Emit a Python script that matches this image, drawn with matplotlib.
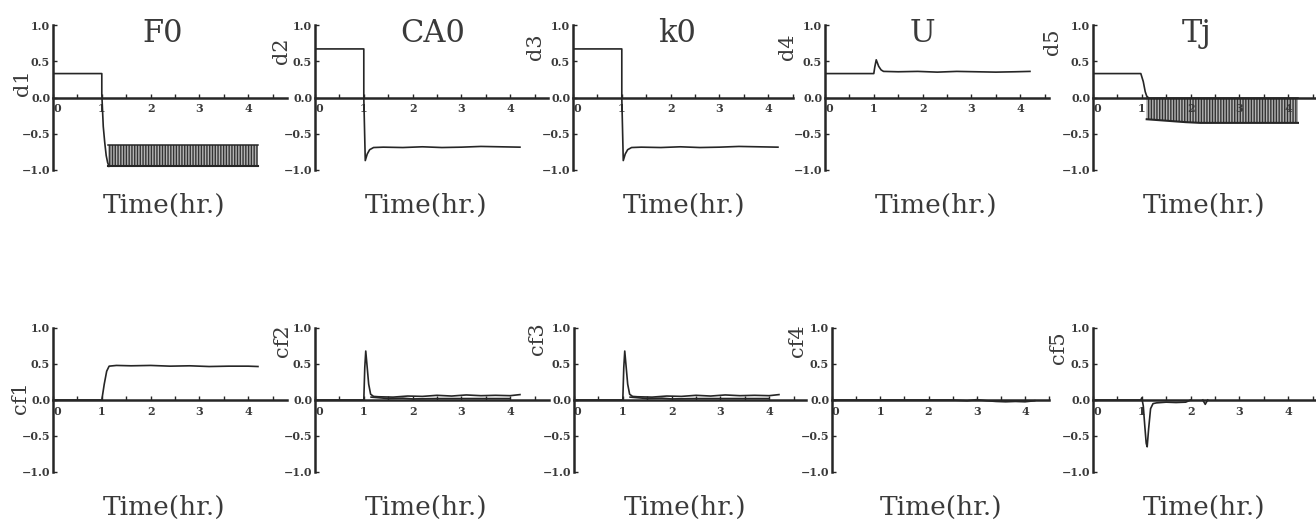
import matplotlib
matplotlib.use("Agg")
import matplotlib.pyplot as plt
import numpy as np

plt.rcParams['font.family'] = ['DejaVu Serif']
plt.rcParams['hatch.linewidth'] = 1.0
plt.rcParams['axes.unicode_minus'] = True

# ---------------- data ----------------
titles = ["F0", "CA0", "k0", "U", "Tj"]
top_ylabels = ["d1", "d2", "d3", "d4", "d5"]
bot_ylabels = ["cf1", "cf2", "cf3", "cf4", "cf5"]
xlabel = "Time(hr.)"
x_ticks = [0, 1, 2, 3, 4]
x_ticklabels = ["0", "1", "2", "3", "4"]
y_ticks = [-1.0, -0.5, 0.0, 0.5, 1.0]
y_ticklabels = ["\u22121.0", "\u22120.5", "0.0", "0.5", "1.0"]

# top row traces
d1_t = [0, 1.0, 1.0, 1.03, 1.06, 1.09, 1.12, 1.15]
d1_v = [0.33, 0.33, 0.05, -0.40, -0.62, -0.80, -0.90, -0.95]
d1_band_t = [1.12, 4.2]
d1_band_hi = [-0.65, -0.65]
d1_band_lo = [-0.95, -0.95]

d2_t = [0, 1.0, 1.0, 1.03, 1.07, 1.12, 1.2, 1.4, 1.8, 2.2, 2.6, 3.0, 3.4, 3.8, 4.2]
d2_v = [0.67, 0.67, 0.0, -0.87, -0.78, -0.72, -0.69, -0.685, -0.69, -0.68, -0.69, -0.685, -0.675, -0.68, -0.685]

d3_t = [0, 1.0, 1.0, 1.03, 1.07, 1.12, 1.2, 1.4, 1.8, 2.2, 2.6, 3.0, 3.4, 3.8, 4.2]
d3_v = [0.67, 0.67, 0.0, -0.87, -0.78, -0.72, -0.69, -0.685, -0.69, -0.68, -0.69, -0.685, -0.675, -0.68, -0.685]

d4_t = [0, 1.0, 1.02, 1.05, 1.1, 1.15, 1.2, 1.5, 1.9, 2.3, 2.7, 3.1, 3.5, 3.9, 4.2]
d4_v = [0.33, 0.33, 0.42, 0.52, 0.43, 0.38, 0.36, 0.355, 0.36, 0.35, 0.36, 0.355, 0.35, 0.355, 0.36]

d5_t = [0, 0.98, 1.03, 1.07, 1.1, 1.13]
d5_v = [0.33, 0.33, 0.22, 0.08, 0.02, 0.0]
d5_band_t = [1.1, 1.5, 1.9, 2.2, 3.0, 4.2]
d5_band_hi = [-0.01, -0.01, -0.01, -0.01, -0.01, -0.01]
d5_band_lo = [-0.30, -0.32, -0.34, -0.35, -0.35, -0.35]

# bottom row traces
cf1_t = [0, 1.0, 1.05, 1.1, 1.15, 1.3, 1.6, 2.0, 2.4, 2.8, 3.2, 3.6, 4.0, 4.2]
cf1_v = [0.0, 0.0, 0.22, 0.40, 0.47, 0.48, 0.475, 0.48, 0.47, 0.475, 0.465, 0.47, 0.47, 0.465]

cf2_t = [0, 1.0, 1.02, 1.04, 1.07, 1.1, 1.14, 1.2, 1.3, 1.6, 1.9, 2.2, 2.5, 2.8, 3.1, 3.4, 3.7, 4.0, 4.2]
cf2_v = [0.0, 0.0, 0.45, 0.68, 0.45, 0.22, 0.08, 0.05, 0.045, 0.04, 0.055, 0.05, 0.065, 0.055, 0.07, 0.06, 0.065, 0.06, 0.075]
cf2b_t = [1.15, 1.5, 1.8, 2.0, 2.5, 3.0, 3.5, 4.0]
cf2b_v = [0.04, 0.02, 0.025, 0.015, 0.02, 0.02, 0.02, 0.02]

cf3_t = [0, 1.0, 1.02, 1.04, 1.07, 1.1, 1.14, 1.2, 1.3, 1.6, 1.9, 2.2, 2.5, 2.8, 3.1, 3.4, 3.7, 4.0, 4.2]
cf3_v = [0.0, 0.0, 0.45, 0.68, 0.45, 0.22, 0.08, 0.05, 0.045, 0.04, 0.055, 0.05, 0.065, 0.055, 0.07, 0.06, 0.065, 0.06, 0.075]
cf3b_t = [1.15, 1.5, 1.8, 2.0, 2.5, 3.0, 3.5, 4.0]
cf3b_v = [0.04, 0.02, 0.025, 0.015, 0.02, 0.02, 0.02, 0.02]

cf4_t = [0, 2.5, 2.8, 3.0, 3.2, 3.4, 3.6, 3.8, 4.0, 4.2]
cf4_v = [0.0, 0.0, -0.01, 0.005, -0.01, -0.02, -0.025, -0.02, -0.025, -0.01]

cf5_t = [0, 0.98, 1.0, 1.03, 1.06, 1.09, 1.11, 1.14, 1.18, 1.23, 1.3, 1.5, 1.7, 1.9, 2.0]
cf5_v = [0.0, 0.0, 0.03, -0.08, -0.35, -0.60, -0.65, -0.40, -0.12, -0.05, -0.04, -0.03, -0.035, -0.03, 0.0]
cf5b_t = [2.25, 2.3, 2.35]
cf5b_v = [0.0, -0.06, 0.0]

top_lines = [[(d1_t, d1_v)], [(d2_t, d2_v)], [(d3_t, d3_v)], [(d4_t, d4_v)], [(d5_t, d5_v)]]
top_bands = {0: (d1_band_t, d1_band_lo, d1_band_hi), 4: (d5_band_t, d5_band_lo, d5_band_hi)}
bot_lines = [[(cf1_t, cf1_v)], [(cf2_t, cf2_v), (cf2b_t, cf2b_v)],
             [(cf3_t, cf3_v), (cf3b_t, cf3b_v)], [(cf4_t, cf4_v)], [(cf5_t, cf5_v), (cf5b_t, cf5b_v)]]

# ---------------- layout ----------------
W, H = 1316, 523
PX_PER_UNIT = 48.8
top_left_px = [53, 315, 573, 825, 1093]
bot_left_px = [53, 315, 574, 832, 1093]
top_xmax = [4.8, 4.78, 4.5, 4.6, 4.6]
bot_xmax = [4.8, 4.8, 4.75, 4.45, 4.6]
top_y_px = (25, 170)
bot_y_px = (328, 472)
title_x = [2.25, 2.42, 2.14, 2.0, 2.13]
top_ylab_pos = [(-0.62, 0.2), (-0.68, 0.65), (-0.76, 0.70), (-0.76, 0.70), (-0.82, 0.77)]
bot_ylab_pos = [(-0.66, 0.03), (-0.66, 0.83), (-0.74, 0.85), (-0.72, 0.82), (-0.70, 0.72)]

TXT = '#3a3a3a'
LINE = '#262626'

fig = plt.figure(figsize=(W / 100, H / 100), dpi=100)


def make_axes(left_px, xmax, ypx):
    top, bottom = ypx
    ax = fig.add_axes([left_px / W, 1 - bottom / H, xmax * PX_PER_UNIT / W, (bottom - top) / H])
    ax.set_xlim(0, xmax)
    ax.set_ylim(-1.0, 1.0)
    ax.patch.set_alpha(0)
    for s in ['top', 'right']:
        ax.spines[s].set_visible(False)
    ax.spines['left'].set_position(('data', 0))
    ax.spines['bottom'].set_position(('data', 0))
    for s in ['left', 'bottom']:
        ax.spines[s].set_linewidth(1.8)
        ax.spines[s].set_color(LINE)
    ax.set_xticks(x_ticks, x_ticklabels)
    ax.set_xticks([0.5, 1.5, 2.5, 3.5, 4.5], minor=True)
    ax.set_yticks(y_ticks, y_ticklabels)
    ax.tick_params(axis='x', which='both', direction='in', length=3, width=1, colors=LINE,
                   labelsize=8, pad=4, labelcolor=TXT)
    ax.tick_params(axis='y', which='both', direction='in', length=3, width=1, colors=LINE,
                   labelsize=8, pad=2, labelcolor=TXT)
    for lab in ax.get_xticklabels() + ax.get_yticklabels():
        lab.set_fontweight('bold')
    ax.xaxis.get_major_ticks()[0].label1.set_horizontalalignment('left')
    ax.text(2.27, -1.49, xlabel, ha='center', va='center', fontsize=19, color=TXT, clip_on=False)
    return ax


for i in range(5):
    ax = make_axes(top_left_px[i], top_xmax[i], top_y_px)
    if i in top_bands:
        bt, lo, hi = top_bands[i]
        ax.fill_between(bt, lo, hi, facecolor='#b4b4b4', edgecolor='#333333', hatch='||||||', linewidth=0)
        ax.plot(bt, lo, color=LINE, lw=1.5)
        ax.plot(bt, hi, color=LINE, lw=1.1)
    for t, v in top_lines[i]:
        ax.plot(t, v, color=LINE, lw=1.2)
    ax.text(title_x[i], 0.88, titles[i], ha='center', va='center', fontsize=22, color=TXT)
    ax.text(top_ylab_pos[i][0], top_ylab_pos[i][1], top_ylabels[i], rotation=90, ha='center',
            va='center', fontsize=15, color=TXT, clip_on=False)

for i in range(5):
    ax = make_axes(bot_left_px[i], bot_xmax[i], bot_y_px)
    for t, v in bot_lines[i]:
        ax.plot(t, v, color=LINE, lw=1.2)
    ax.text(bot_ylab_pos[i][0], bot_ylab_pos[i][1], bot_ylabels[i], rotation=90, ha='center',
            va='center', fontsize=15, color=TXT, clip_on=False)

fig.savefig('out.png', dpi=100)
